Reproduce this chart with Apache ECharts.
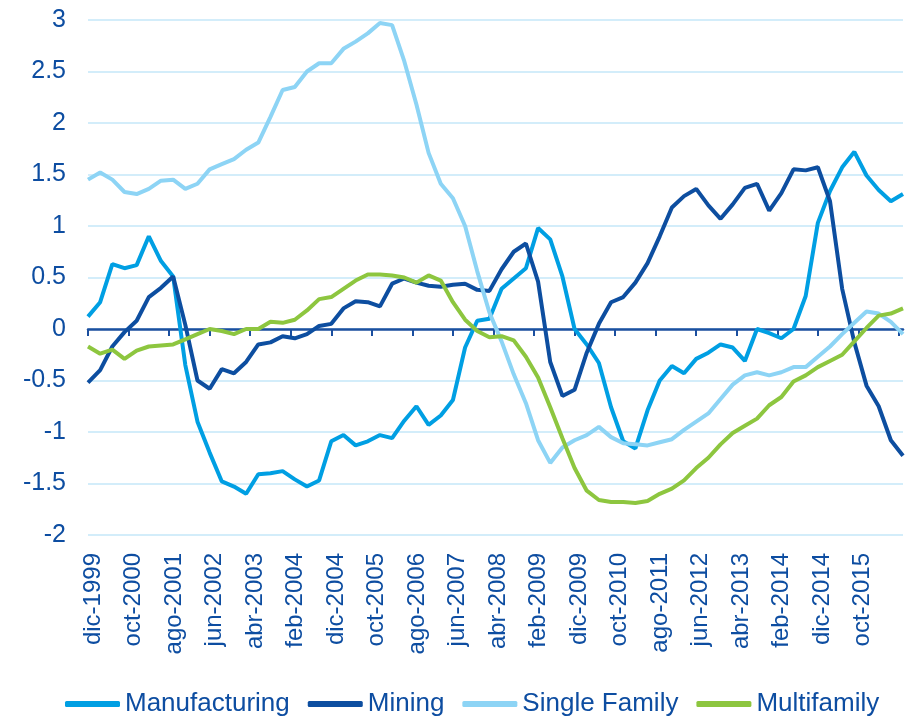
<!DOCTYPE html>
<html>
<head>
<meta charset="utf-8">
<script src="https://cdn.jsdelivr.net/npm/echarts@6/dist/echarts.min.js"></script>
<style>
  html, body { margin: 0; padding: 0; background: #fff; }
  #chart { width: 907px; height: 720px; }
</style>
</head>
<body>
<div id="chart"></div>
<script>
// quarterly readings, first point dic-1999, one every 3 months
const manufacturing = [
  0.12, 0.26, 0.63, 0.59, 0.62, 0.90, 0.66, 0.51, -0.35, -0.90, -1.20, -1.48,
  -1.53, -1.60, -1.41, -1.40, -1.38, -1.46, -1.53, -1.47, -1.09, -1.03, -1.13, -1.09,
  -1.03, -1.06, -0.89, -0.75, -0.93, -0.84, -0.69, -0.18, 0.08, 0.10, 0.39, 0.49,
  0.59, 0.98, 0.87, 0.51, 0.00, -0.15, -0.33, -0.76, -1.09, -1.16, -0.79,
  -0.50, -0.36, -0.43, -0.29, -0.23, -0.15, -0.18, -0.31, 0.00, -0.04, -0.09, 0.00,
  0.32, 1.03, 1.34, 1.57, 1.72, 1.49, 1.35, 1.24, 1.31
]
const mining = [
  -0.52, -0.40, -0.17, -0.03, 0.08, 0.31, 0.40, 0.51, 0.04, -0.50, -0.58, -0.39,
  -0.43, -0.32, -0.15, -0.13, -0.07, -0.09, -0.05, 0.03, 0.05, 0.20, 0.27, 0.26,
  0.22, 0.44, 0.49, 0.45, 0.42, 0.41, 0.43, 0.44, 0.38, 0.37, 0.58, 0.75,
  0.83, 0.46, -0.32, -0.65, -0.59, -0.23, 0.05, 0.26, 0.31, 0.45, 0.64,
  0.90, 1.18, 1.29, 1.36, 1.20, 1.07, 1.21, 1.37, 1.41, 1.15, 1.32, 1.55,
  1.54, 1.57, 1.24, 0.39, -0.13, -0.55, -0.75, -1.08, -1.23
]
const singleFamily = [
  1.45, 1.52, 1.45, 1.33, 1.31, 1.36, 1.44, 1.45, 1.36, 1.41, 1.55, 1.60,
  1.65, 1.74, 1.81, 2.06, 2.32, 2.35, 2.50, 2.58, 2.58, 2.72, 2.79, 2.87,
  2.97, 2.95, 2.60, 2.18, 1.71, 1.41, 1.27, 1.00, 0.56, 0.16, -0.12, -0.44,
  -0.72, -1.08, -1.30, -1.15, -1.08, -1.03, -0.95, -1.05, -1.11, -1.12, -1.13,
  -1.10, -1.07, -0.98, -0.90, -0.82, -0.68, -0.54, -0.45, -0.42, -0.45, -0.42, -0.37,
  -0.37, -0.27, -0.17, -0.05, 0.06, 0.17, 0.15, 0.07, -0.05
]
const multifamily = [
  -0.17, -0.24, -0.20, -0.29, -0.21, -0.17, -0.16, -0.15, -0.10, -0.05, 0.00, -0.02,
  -0.05, 0.00, 0.00, 0.07, 0.06, 0.09, 0.18, 0.29, 0.31, 0.39, 0.47, 0.53,
  0.53, 0.52, 0.50, 0.45, 0.52, 0.47, 0.26, 0.09, -0.02, -0.08, -0.07, -0.11,
  -0.27, -0.47, -0.76, -1.06, -1.35, -1.57, -1.66, -1.68, -1.68, -1.69, -1.67,
  -1.60, -1.55, -1.47, -1.35, -1.25, -1.12, -1.01, -0.94, -0.87, -0.74, -0.66, -0.51,
  -0.45, -0.37, -0.31, -0.25, -0.12, 0.01, 0.13, 0.15, 0.20
]

const monthNames = ['ene', 'feb', 'mar', 'abr', 'may', 'jun', 'jul', 'ago', 'sep', 'oct', 'nov', 'dic']
// monthly categories, dic-1999 .. sep-2016
const months = []
for (let i = 0; i < 202; i++) {
  const m = (11 + i) % 12
  const y = 1999 + Math.floor((11 + i) / 12)
  months.push(monthNames[m] + '-' + y)
}

const textColor = '#0D4DA1'
const font = 'Liberation Sans, Arial, sans-serif'

const chart = echarts.init(document.getElementById('chart'))

function line(name, values, color) {
  return {
    name: name,
    type: 'line',
    xAxisIndex: 0,
    yAxisIndex: 0,
    symbol: 'none',
    lineStyle: { width: 4, color: color },
    itemStyle: { color: color },
    data: values.map((v, i) => [i * 3, v]),
  }
}

chart.setOption({
  animation: false,
  textStyle: { fontFamily: font },
  // second grid only carries the date labels, nudged a little to the right like the original
  grid: [
    { left: 88, right: 4, top: 20, bottom: 185 },
    { left: 93, right: -1, top: 20, bottom: 185 },
  ],
  legend: {
    bottom: -2,
    left: 60,
    icon: 'roundRect',
    itemWidth: 55,
    itemHeight: 6,
    itemGap: 18,
    textStyle: { color: textColor, fontSize: 26, fontFamily: font },
    data: ['Manufacturing', 'Mining', 'Single Family', 'Multifamily'],
  },
  xAxis: [
    {
      type: 'category',
      gridIndex: 0,
      data: months,
      boundaryGap: false,
      axisLine: { onZero: true, lineStyle: { color: '#1B4F9F', width: 2.5 } },
      axisTick: { interval: 9, length: 7, lineStyle: { color: '#1B4F9F', width: 2 } },
      axisLabel: { show: false },
      splitLine: { show: false },
    },
    {
      type: 'category',
      gridIndex: 1,
      data: months,
      position: 'bottom',
      boundaryGap: false,
      axisLine: { show: false, onZero: false },
      axisTick: { show: false },
      splitLine: { show: false },
      axisLabel: {
        rotate: 90,
        margin: 18,
        color: textColor,
        fontSize: 24,
        fontFamily: font,
        interval: (idx) => idx % 10 === 0 && idx < 200,
      },
    },
  ],
  yAxis: [
    {
      type: 'value',
      gridIndex: 0,
      min: -2,
      max: 3,
      interval: 0.5,
      axisLine: { show: false },
      axisTick: { show: false },
      axisLabel: { color: textColor, fontSize: 25, margin: 22, fontFamily: font },
      splitLine: { lineStyle: { color: '#C4E7F8', width: 1.5 } },
    },
    {
      type: 'value',
      gridIndex: 1,
      min: -2,
      max: 3,
      show: false,
    },
  ],
  series: [
    line('Manufacturing', manufacturing, '#009FE3'),
    line('Mining', mining, '#0D4EA0'),
    line('Single Family', singleFamily, '#8DD4F5'),
    line('Multifamily', multifamily, '#8DC63F'),
  ],
})
</script>
</body>
</html>
